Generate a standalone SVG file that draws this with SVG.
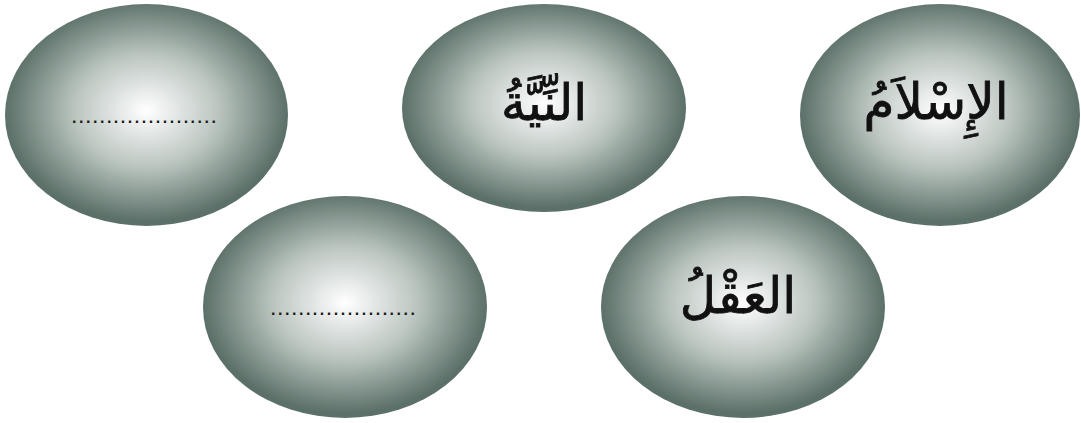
<svg xmlns="http://www.w3.org/2000/svg" width="1081" height="423" viewBox="0 0 1081 423">
<defs>
<radialGradient id="g" cx="0.5" cy="0.48" r="0.5">
<stop offset="0" stop-color="#ffffff"/>
<stop offset="0.5" stop-color="#bcc6c1"/>
<stop offset="1" stop-color="#5b7068"/>
</radialGradient>
</defs>
<style>
.oval{fill:url(#g);}
.ar{font-family:"DejaVu Sans",sans-serif;font-size:50px;fill:#111;stroke:#111;stroke-width:0.8;text-anchor:middle;}
.dots{font-family:"Liberation Sans",sans-serif;font-size:16px;font-weight:bold;fill:#1a1a1a;}
</style>
<rect width="1081" height="423" fill="#ffffff"/>
<g id="node-blank-top">
<ellipse class="oval" cx="146.5" cy="115" rx="141.5" ry="111"/>
<text class="dots" x="72" y="123" textLength="144" lengthAdjust="spacing">.....................</text>
</g>
<g id="node-niyya">
<ellipse class="oval" cx="544" cy="108" rx="142" ry="104"/>
<text class="ar" x="544" y="120" direction="rtl">النِّيَّةُ</text>
</g>
<g id="node-islam">
<ellipse class="oval" cx="940" cy="115" rx="140" ry="111"/>
<text class="ar" x="936" y="119" direction="rtl">الإِسْلاَمُ</text>
</g>
<g id="node-blank-bottom">
<ellipse class="oval" cx="345" cy="307" rx="142" ry="111"/>
<text class="dots" x="271" y="315" textLength="144" lengthAdjust="spacing">.....................</text>
</g>
<g id="node-aql">
<ellipse class="oval" cx="743" cy="307" rx="142" ry="111"/>
<text class="ar" x="738" y="313" direction="rtl">العَقْلُ</text>
</g>
<g id="connectors"></g>
</svg>
